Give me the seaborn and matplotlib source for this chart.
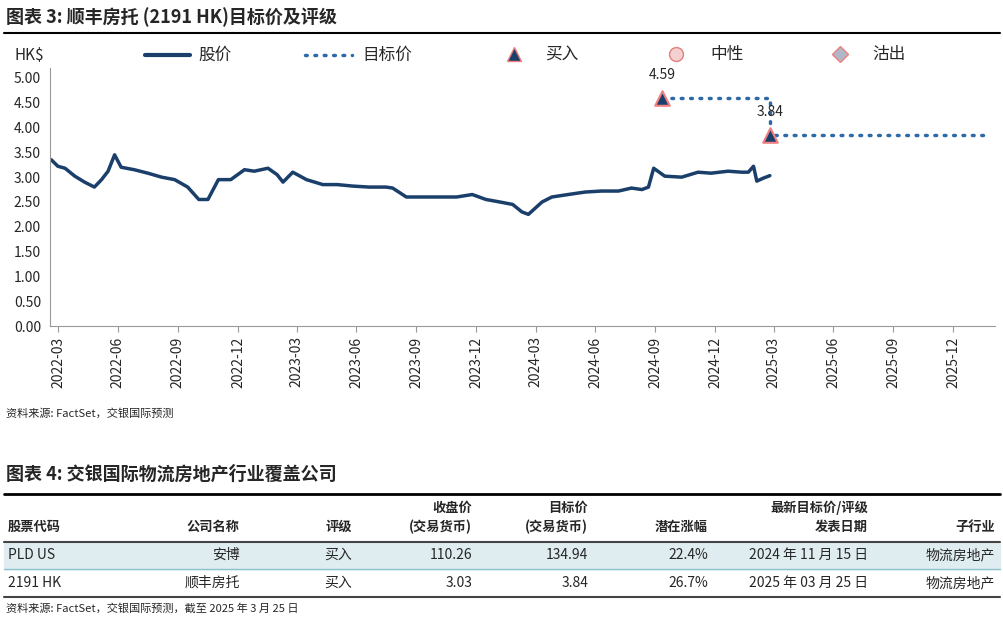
import numpy as np
import pandas as pd
import seaborn as sns
from matplotlib import pyplot as plt
from matplotlib.lines import Line2D

# price series (approximate)
price_dates = ['2022-03-20', '2022-03-30', '2022-04-10', '2022-04-25', '2022-05-10', '2022-05-25',
               '2022-06-05', '2022-06-15', '2022-06-25', '2022-07-05', '2022-07-25', '2022-08-15',
               '2022-09-05', '2022-09-25', '2022-10-15', '2022-11-01', '2022-11-15', '2022-12-01',
               '2022-12-20', '2023-01-10', '2023-01-25', '2023-02-15', '2023-03-01', '2023-03-10',
               '2023-03-25', '2023-04-15', '2023-05-10', '2023-06-01', '2023-06-25', '2023-07-20',
               '2023-08-15', '2023-08-25', '2023-09-15', '2023-10-10', '2023-11-05', '2023-12-01',
               '2023-12-25', '2024-01-15', '2024-02-05', '2024-02-25', '2024-03-10', '2024-03-20',
               '2024-04-10', '2024-04-25', '2024-05-20', '2024-06-15', '2024-07-10', '2024-08-05',
               '2024-08-25', '2024-09-10', '2024-09-20', '2024-09-28', '2024-10-15', '2024-11-10',
               '2024-12-05', '2024-12-25', '2025-01-20', '2025-02-10', '2025-02-20', '2025-02-28',
               '2025-03-05', '2025-03-15', '2025-03-25']
price_values = [3.35, 3.22, 3.18, 3.02, 2.90, 2.80,
                2.95, 3.12, 3.45, 3.20, 3.15, 3.08,
                3.00, 2.95, 2.80, 2.55, 2.55, 2.95,
                2.95, 3.15, 3.12, 3.18, 3.05, 2.90,
                3.10, 2.95, 2.85, 2.85, 2.82, 2.80,
                2.80, 2.78, 2.60, 2.60, 2.60, 2.60,
                2.65, 2.55, 2.50, 2.45, 2.30, 2.25,
                2.50, 2.60, 2.65, 2.70, 2.72, 2.72,
                2.78, 2.75, 2.80, 3.18, 3.02, 3.00,
                3.10, 3.08, 3.12, 3.10, 3.10, 3.22,
                2.92, 2.98, 3.03]

target_dates = ['2024-10-11', '2025-03-25', '2025-03-25', '2026-02-15']
target_values = [4.59, 4.59, 3.84, 3.84]

rating_dates = ['2024-10-11', '2025-03-25']
rating_values = [4.59, 3.84]

table_header1 = ['', '', '', '收盘价', '目标价', '', '最新目标价/评级', '']
table_header2 = ['股票代码', '公司名称', '评级', '(交易货币)', '(交易货币)', '潜在涨幅', '发表日期', '子行业']
table_rows = [
    ['PLD US', '安博', '买入', '110.26', '134.94', '22.4%', '2024 年 11 月 15 日', '物流房地产'],
    ['2191 HK', '顺丰房托', '买入', '3.03', '3.84', '26.7%', '2025 年 03 月 25 日', '物流房地产'],
]

sns.set_style('white')
plt.rcParams['font.family'] = ['Noto Sans CJK SC', 'DejaVu Sans']

W, H = 1004, 632
fig = plt.figure(figsize=(W / 100, H / 100), dpi=100)

def fy(py):
    return 1 - py / H

def fx(px):
    return px / W

navy = '#1b3f6b'
blue = '#2c6aa8'

# titles
fig.text(fx(6), fy(17), '图表 3: 顺丰房托 (2191 HK)目标价及评级', fontsize=13, fontweight='bold', va='center')
fig.add_artist(Line2D([fx(4), fx(1000)], [fy(33), fy(33)], color='black', lw=1.5))

ax = fig.add_axes([fx(50), fy(326), fx(995) - fx(50), fy(68) - fy(326)])
df_p = pd.DataFrame({'date': pd.to_datetime(price_dates), 'price': price_values})
df_t = pd.DataFrame({'date': pd.to_datetime(target_dates), 'price': target_values})
sns.lineplot(data=df_p, x='date', y='price', ax=ax, color=navy, lw=2.5)
sns.lineplot(data=df_t, x='date', y='price', ax=ax, color=blue, lw=2.5, linestyle=(0, (0.5, 2.2)),
             dash_capstyle='round', sort=False, estimator=None)
ax.scatter(pd.to_datetime(rating_dates), rating_values, marker='^', s=110, color=navy,
           edgecolor='#f08080', linewidth=1.5, zorder=5)
for d, v in zip(rating_dates, rating_values):
    ax.annotate(f'{v:.2f}', (pd.Timestamp(d), v), xytext=(0, 14), textcoords='offset points',
                ha='center', fontsize=10)

ax.set_ylim(0, 5.2)
ax.set_yticks(np.arange(0, 5.01, 0.5))
ax.set_yticklabels([f'{v:.2f}' for v in np.arange(0, 5.01, 0.5)], fontsize=10)
ticks = pd.date_range('2022-03-01', '2025-12-01', freq='3MS') + pd.offsets.MonthEnd(0)
ax.set_xticks(ticks)
ax.set_xticklabels([t.strftime('%Y-%m') for t in ticks], rotation=90, fontsize=10)
ax.set_xlim(pd.Timestamp('2022-03-18'), pd.Timestamp('2026-03-05'))
ax.set_xlabel('')
ax.set_ylabel('')
for s in ['top', 'right']:
    ax.spines[s].set_visible(False)
for s in ['left', 'bottom']:
    ax.spines[s].set_color('#999999')
ax.tick_params(axis='both', length=3, color='#999999')
ax.tick_params(axis='x', length=4, direction='out', bottom=True)

# legend row
fig.text(fx(15), fy(55), 'HK$', fontsize=11, va='center')
fig.add_artist(Line2D([fx(145), fx(190)], [fy(55), fy(55)], color=navy, lw=3))
fig.text(fx(198), fy(55), '股价', fontsize=12, va='center')
fig.add_artist(Line2D([fx(305), fx(352)], [fy(55), fy(55)], color=blue, lw=2.5, linestyle=(0, (0.5, 2.2)),
                      dash_capstyle='round'))
fig.text(fx(362), fy(55), '目标价', fontsize=12, va='center')
fig.add_artist(Line2D([fx(514)], [fy(54)], marker='^', ms=10, color=navy, markeredgecolor='#f08080'))
fig.add_artist(Line2D([fx(676)], [fy(54)], marker='o', ms=10, color='#f5d0d0', markeredgecolor='#e08080'))
fig.add_artist(Line2D([fx(840)], [fy(54)], marker='D', ms=8, color='#b0b8c8', markeredgecolor='#f08080'))
fig.text(fx(545), fy(55), '买入', fontsize=12, va='center')
fig.text(fx(710), fy(55), '中性', fontsize=12, va='center')
fig.text(fx(872), fy(55), '沽出', fontsize=12, va='center')

fig.text(fx(6), fy(413), '资料来源: FactSet，交银国际预测', fontsize=8, style='italic', va='center')

# table
fig.text(fx(6), fy(474), '图表 4: 交银国际物流房地产行业覆盖公司', fontsize=13, fontweight='bold', va='center')
fig.add_artist(Line2D([fx(4), fx(1000)], [fy(494), fy(494)], color='black', lw=2))
col_x = [8, 240, 352, 472, 588, 708, 868, 995]
col_ha = ['left'] + ['right'] * 7
for x, ha, h1, h2 in zip(col_x, col_ha, table_header1, table_header2):
    fig.text(fx(x), fy(508), h1, fontsize=9.5, fontweight='bold', ha=ha, va='center')
    fig.text(fx(x), fy(527), h2, fontsize=9.5, fontweight='bold', ha=ha, va='center')
fig.add_artist(Line2D([fx(4), fx(1000)], [fy(542), fy(542)], color='#444444', lw=1.5))
fig.add_artist(plt.Rectangle((fx(4), fy(569)), fx(996), fy(543) - fy(569), color='#e0edf0',
                             transform=fig.transFigure, zorder=0))
fig.add_artist(Line2D([fx(4), fx(1000)], [fy(569), fy(569)], color='#8cc0cc', lw=1))
for row, py in zip(table_rows, [555, 583]):
    for x, ha, val in zip(col_x, col_ha, row):
        fig.text(fx(x), fy(py), val, fontsize=10, ha=ha, va='center')
fig.add_artist(Line2D([fx(4), fx(1000)], [fy(597), fy(597)], color='#444444', lw=1.5))
fig.text(fx(6), fy(608), '资料来源: FactSet，交银国际预测，截至 2025 年 3 月 25 日', fontsize=8,
         style='italic', va='center')

fig.savefig('out.png', dpi=100)
